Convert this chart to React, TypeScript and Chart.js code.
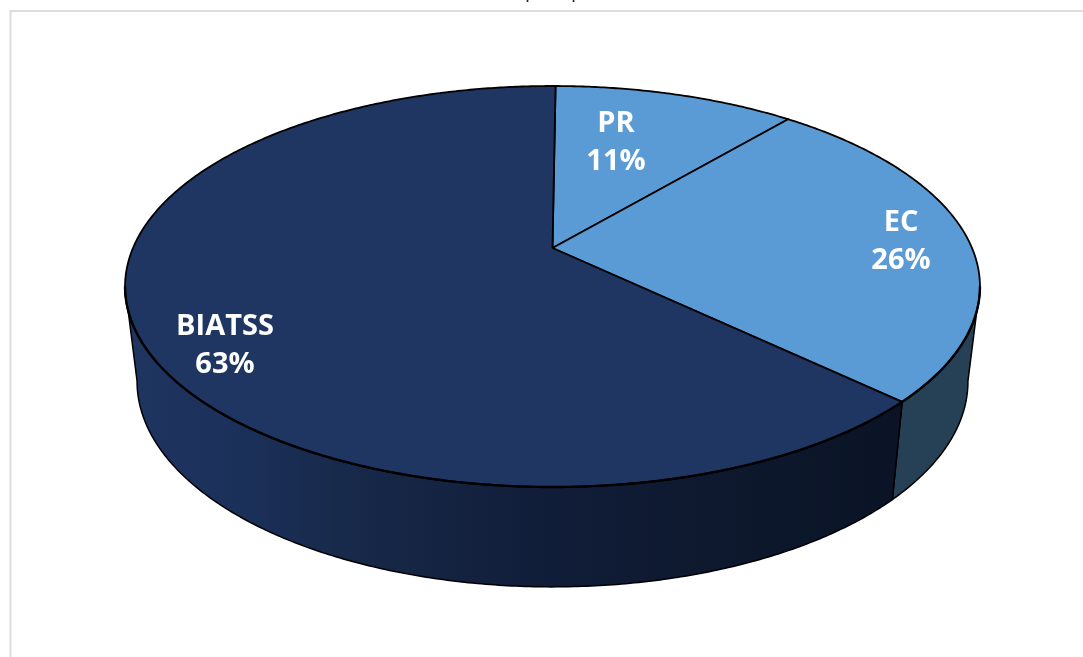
import React, { useEffect, useRef } from "react";
import { Chart, registerables } from "chart.js";

Chart.register(...registerables);

// Staff shares, in percent
const categories = ["PR", "EC", "BIATSS"];
const shares = [11, 26, 63];

// Slice and wall colours, in category order
const topColors = ["#5B9BD5", "#5B9BD5", "#1E3661"];
const wallColors = ["#1E3661", "#264156", null];

// Label centres on the canvas
const labelCentres = [
  [616, 143],
  [901, 242],
  [225, 346],
];

const WIDTH = 1083;
const HEIGHT = 657;
const CENTRE_X = 552.5;
const TILT = -0.192;
const TOP_RIM = { a: 419.5, b: 145.5, c: 248 };
const BOTTOM_RIM = { a: 407.7, b: 132.2, c: 342 };
// Silhouette of the disc, in clockwise degrees from twelve o'clock
const FRONT_START = 101;
const FRONT_END = 259;

type Rim = { a: number; b: number; c: number };

// Perspective projection of a unit-circle point onto a rim of the disc
function project(rim: Rim, theta: number, radius = 1): [number, number] {
  const u = Math.sin(theta) * radius;
  const v = -Math.cos(theta) * radius;
  const w = 1 + TILT * v;
  return [CENTRE_X + (rim.a * u) / w, (rim.c + rim.b * v) / w];
}

function sample(start: number, end: number): number[] {
  const out: number[] = [];
  const step = Math.PI / 360;
  const n = Math.max(1, Math.ceil(Math.abs(end - start) / step));
  for (let i = 0; i <= n; i++) out.push(start + ((end - start) * i) / n);
  return out;
}

function tracePoints(ctx: CanvasRenderingContext2D, rim: Rim, thetas: number[], move: boolean) {
  thetas.forEach((t, i) => {
    const [x, y] = project(rim, t);
    if (i === 0 && move) ctx.moveTo(x, y);
    else ctx.lineTo(x, y);
  });
}

function wallFill(ctx: CanvasRenderingContext2D, color: string | null) {
  if (color) return color;
  const g = ctx.createLinearGradient(137, 0, 890, 0);
  g.addColorStop(0, "#1E3560");
  g.addColorStop(0.14, "#1B3059");
  g.addColorStop(0.3, "#172848");
  g.addColorStop(0.52, "#111E3A");
  g.addColorStop(0.75, "#0E192F");
  g.addColorStop(1, "#0B1426");
  return g;
}

const disc3d = {
  id: "disc3d",
  beforeDraw(chart: any) {
    const { ctx } = chart;
    ctx.save();
    ctx.fillStyle = "#FFFFFF";
    ctx.fillRect(0, 0, WIDTH, HEIGHT);
    ctx.strokeStyle = "#DCDCDC";
    ctx.lineWidth = 2;
    ctx.beginPath();
    ctx.moveTo(10.5, HEIGHT);
    ctx.lineTo(10.5, 11);
    ctx.lineTo(WIDTH, 11);
    ctx.stroke();
    // Descenders of the heading, which runs off the top of the page
    ctx.fillStyle = "#222222";
    ctx.font = "20px 'Open Sans'";
    ctx.textAlign = "left";
    ctx.textBaseline = "alphabetic";
    ctx.fillText("p", 525, -3);
    ctx.fillText("p", 571, -3);
    ctx.restore();
  },
  beforeDatasetDraw(chart: any) {
    const { ctx } = chart;
    const arcs = chart.getDatasetMeta(0).data;
    const frontStart = (FRONT_START * Math.PI) / 180;
    const frontEnd = (FRONT_END * Math.PI) / 180;
    ctx.save();
    ctx.lineJoin = "round";

    // Walls of the slices that face the viewer
    arcs.forEach((arc: any, i: number) => {
      const start = Math.max(arc.startAngle + Math.PI / 2, frontStart);
      const end = Math.min(arc.endAngle + Math.PI / 2, frontEnd);
      if (end <= start) return;
      const forward = sample(start, end);
      ctx.beginPath();
      tracePoints(ctx, TOP_RIM, forward, true);
      tracePoints(ctx, BOTTOM_RIM, forward.slice().reverse(), false);
      ctx.closePath();
      ctx.fillStyle = wallFill(ctx, wallColors[i]);
      ctx.fill();
      ctx.strokeStyle = "#000000";
      ctx.lineWidth = 1.5;
      ctx.stroke();
    });

    // Top face of each slice, radiating from the projected disc centre
    arcs.forEach((arc: any) => {
      const start = arc.startAngle + Math.PI / 2;
      const end = arc.endAngle + Math.PI / 2;
      ctx.beginPath();
      ctx.moveTo(...project(TOP_RIM, 0, 0));
      tracePoints(ctx, TOP_RIM, sample(start, end), false);
      ctx.closePath();
      ctx.fillStyle = arc.options.backgroundColor;
      ctx.fill();
      ctx.strokeStyle = arc.options.borderColor;
      ctx.lineWidth = arc.options.borderWidth;
      ctx.stroke();
    });

    // The near edge of the top face reads heavier
    ctx.beginPath();
    tracePoints(ctx, TOP_RIM, sample(frontStart, frontEnd), true);
    ctx.strokeStyle = "#000000";
    ctx.lineWidth = 2.4;
    ctx.stroke();
    ctx.restore();
    return false;
  },
  afterDraw(chart: any) {
    const { ctx } = chart;
    ctx.save();
    ctx.fillStyle = "#FFFFFF";
    ctx.font = "bold 29px 'Open Sans'";
    ctx.textAlign = "center";
    ctx.textBaseline = "middle";
    categories.forEach((name, i) => {
      const [x, y] = labelCentres[i];
      ctx.fillText(name, x, y - 19);
      ctx.fillText(`${shares[i]}%`, x, y + 19);
    });
    ctx.restore();
  },
};

export default function App() {
  const ref = useRef<HTMLCanvasElement>(null);

  useEffect(() => {
    const chart = new Chart(ref.current!, {
      type: "pie",
      data: {
        labels: categories,
        datasets: [
          {
            data: shares,
            backgroundColor: topColors,
            borderColor: "#000000",
            borderWidth: 1.8,
          },
        ],
      },
      options: {
        responsive: false,
        animation: false,
        rotation: 0.5,
        plugins: {
          legend: { display: false },
          tooltip: { enabled: false },
          title: { display: false },
        },
      },
      plugins: [disc3d],
    });
    return () => chart.destroy();
  }, []);

  return (
    <canvas
      ref={ref}
      width={WIDTH}
      height={HEIGHT}
      style={{ position: "absolute", left: 0, top: 0, display: "block" }}
    />
  );
}
